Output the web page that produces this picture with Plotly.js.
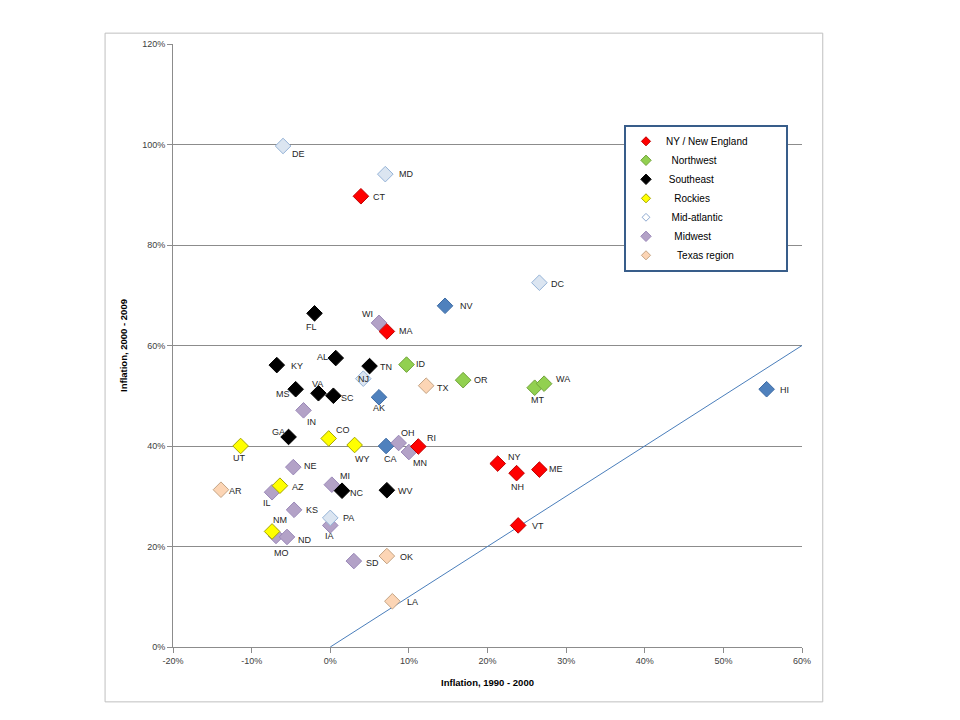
<!DOCTYPE html>
<html>
<head>
<meta charset="utf-8">
<script src="https://cdn.plot.ly/plotly-3.0.1.min.js"></script>
<style>
html,body{margin:0;padding:0;background:#fff;}
#chart{width:960px;height:720px;}
</style>
</head>
<body>
<div id="chart"></div>
<script>
// ---- Data (inflation 1990-2000 vs 2000-2009) ----
const newEnglandStates = ["CT","MA","RI","NY","NH","ME","VT"];
const newEnglandX = [0.039, 0.072, 0.112, 0.213, 0.237, 0.266, 0.239];
const newEnglandY = [0.897, 0.628, 0.399, 0.365, 0.346, 0.353, 0.242];

const northwestStates = ["ID","OR","MT","WA"];
const northwestX = [0.097, 0.169, 0.260, 0.272];
const northwestY = [0.562, 0.531, 0.516, 0.524];

const southeastStates = ["FL","AL","KY","TN","MS","VA","SC","GA","NC","WV"];
const southeastX = [-0.020, 0.007, -0.068, 0.050, -0.044, -0.015, 0.004, -0.053, 0.015, 0.072];
const southeastY = [0.664, 0.575, 0.561, 0.559, 0.513, 0.505, 0.500, 0.418, 0.311, 0.312];

const rockiesStates = ["CO","UT","WY","AZ","NM"];
const rockiesX = [-0.002, -0.114, 0.031, -0.064, -0.074];
const rockiesY = [0.415, 0.400, 0.402, 0.321, 0.230];

const midAtlanticStates = ["DE","MD","DC","NJ","PA"];
const midAtlanticX = [-0.060, 0.070, 0.266, 0.042, -0.000];
const midAtlanticY = [0.997, 0.941, 0.725, 0.534, 0.257];

const midwestStates = ["WI","IN","OH","MN","NE","MI","IL","KS","IA","MO","ND","SD"];
const midwestX = [0.062, -0.034, 0.087, 0.100, -0.047, 0.002, -0.074, -0.046, -0.000, -0.069, -0.055, 0.030];
const midwestY = [0.645, 0.471, 0.406, 0.388, 0.358, 0.323, 0.308, 0.273, 0.242, 0.221, 0.219, 0.171];

const texasStates = ["TX","AR","OK","LA"];
const texasX = [0.122, -0.139, 0.072, 0.079];
const texasY = [0.520, 0.313, 0.181, 0.091];

const pacificStates = ["NV","AK","CA","HI"];
const pacificX = [0.146, 0.062, 0.071, 0.555];
const pacificY = [0.679, 0.497, 0.400, 0.513];

const parityX = [0, 0.6];
const parityY = [0, 0.6];

const legendNames = ["NY / New England","Northwest","Southeast","Rockies","Mid-atlantic","Midwest","Texas region"];

const xTickVals = [-0.2, -0.1, 0, 0.1, 0.2, 0.3, 0.4, 0.5, 0.6];
const xTickLabels = ["-20%","-10%","0%","10%","20%","30%","40%","50%","60%"];
const yTickVals = [0, 0.2, 0.4, 0.6, 0.8, 1.0, 1.2];
const yTickLabels = ["0%","20%","40%","60%","80%","100%","120%"];

// ---- Styles ----
const styles = {
  ne:  {fill:"#FF0000", line:"#C00000", lsize:7},
  nw:  {fill:"#92D050", line:"#71A33A", lsize:8},
  se:  {fill:"#000000", line:"#000000", lsize:8},
  ro:  {fill:"#FFFF00", line:"#A6A600", lsize:7},
  ma:  {fill:"#DBE5F1", line:"#95B3D7", lsize:6},
  mw:  {fill:"#B3A2C7", line:"#9A88B8", lsize:8},
  tx:  {fill:"#FCD5B5", line:"#C4A484", lsize:7},
  pa:  {fill:"#4F81BD", line:"#3E6CA5", lsize:8}
};
// legend text indents / padding (in non-breaking spaces)
const legendLead = [0, 2, 1, 3, 2, 3, 4];
const legendTrail = 12;

// label offsets in px [dx, dy(down)]
const labelOffsets = {
  DE:[15,8], MD:[21,0], CT:[19,1], NV:[21,0], FL:[-3,14], WI:[-12,-9], MA:[19,0],
  AL:[-13,-1], KY:[20,1], TN:[16,1], ID:[14,-1], NJ:[0,0], TX:[17,2], OR:[18,0],
  MS:[-13,5], VA:[-1,-9], SC:[14,2], AK:[0,11], IN:[8,12], GA:[-10,-5], CO:[14,-8],
  UT:[-1,12], WY:[8,14], CA:[4,13], OH:[9,-10], RI:[13,-9], MN:[11,11], NE:[17,-1],
  MI:[13,-9], AZ:[18,1], AR:[15,1], NC:[15,2], WV:[19,1], IL:[-5,11], KS:[18,0],
  PA:[18,0], IA:[-1,11], NM:[8,-11], MO:[5,17], ND:[18,3], SD:[19,2], OK:[20,1],
  LA:[20,1], DC:[19,1], MT:[3,12], WA:[19,-5], HI:[18,1], NY:[17,-7], NH:[1,14],
  ME:[17,-1], VT:[20,1]
};

const groups = [
  {key:"pa", states:pacificStates, x:pacificX, y:pacificY},
  {key:"mw", states:midwestStates, x:midwestX, y:midwestY},
  {key:"ma", states:midAtlanticStates, x:midAtlanticX, y:midAtlanticY},
  {key:"tx", states:texasStates, x:texasX, y:texasY},
  {key:"ro", states:rockiesStates, x:rockiesX, y:rockiesY},
  {key:"nw", states:northwestStates, x:northwestX, y:northwestY},
  {key:"se", states:southeastStates, x:southeastX, y:southeastY},
  {key:"ne", states:newEnglandStates, x:newEnglandX, y:newEnglandY}
];

const traces = [];
traces.push({
  x: parityX, y: parityY, mode:"lines", type:"scatter",
  line:{color:"#4A7EBB", width:1}, showlegend:false, hoverinfo:"skip"
});
groups.forEach(g => {
  const s = styles[g.key];
  traces.push({
    x:g.x, y:g.y, text:g.states, mode:"markers", type:"scatter",
    marker:{symbol:"diamond", size:12, color:s.fill, line:{color:s.line, width:1}},
    showlegend:false, hoverinfo:"text"
  });
});
const nb = n => "&nbsp;".repeat(n);
const legendKeys = ["ne","nw","se","ro","ma","mw","tx"];
legendKeys.forEach((k,i) => {
  const s = styles[k];
  const isOutline = (k === "ma");
  traces.push({
    x:[null], y:[null], mode:"markers", type:"scatter",
    name: nb(legendLead[i]) + legendNames[i] + (i === 0 ? nb(legendTrail) : ""),
    marker:{symbol:"diamond", size:s.lsize, color: isOutline ? "#FFFFFF" : s.fill,
            line:{color: isOutline ? "#8EA9D0" : s.line, width:1}},
    showlegend:true
  });
});

const annotations = [];
groups.forEach(g => {
  g.states.forEach((st, i) => {
    const off = labelOffsets[st] || [15,0];
    annotations.push({
      x:g.x[i], y:g.y[i], xref:"x", yref:"y", text:st, showarrow:false,
      xshift:off[0], yshift:-off[1],
      font:{family:"Liberation Sans, Arial, sans-serif", size:9, color:"#262626"}
    });
  });
});

const layout = {
  width:960, height:720,
  margin:{l:173, r:158, t:44, b:73},
  paper_bgcolor:"#FFFFFF", plot_bgcolor:"#FFFFFF",
  font:{family:"Liberation Sans, Arial, sans-serif", size:9, color:"#404040"},
  xaxis:{
    range:[-0.2, 0.6], tickmode:"array", tickvals:xTickVals, ticktext:xTickLabels,
    showgrid:false, zeroline:false, showline:true, linecolor:"#8C8C8C", linewidth:1,
    ticks:"outside", ticklen:5, tickcolor:"#8C8C8C",
    tickfont:{size:9, color:"#404040"},
    title:{text:"<b>Inflation, 1990 - 2000</b>", font:{size:9.5, color:"#000000"}, standoff:14},
    automargin:false
  },
  yaxis:{
    range:[0, 1.2], tickmode:"array", tickvals:yTickVals, ticktext:yTickLabels,
    showgrid:true, gridcolor:"#8C8C8C", gridwidth:1,
    zeroline:false, showline:true, linecolor:"#8C8C8C", linewidth:1,
    ticks:"outside", ticklen:5, tickcolor:"#8C8C8C",
    tickfont:{size:9, color:"#404040"},
    title:{text:"<b>Inflation, 2000 - 2009</b>", font:{size:9.5, color:"#000000"}, standoff:12},
    automargin:false
  },
  legend:{
    x:0.717, y:0.866, xanchor:"left", yanchor:"top",
    bgcolor:"#FFFFFF", bordercolor:"#385D8A", borderwidth:2,
    font:{size:10, color:"#000000"}, itemsizing:"trace"
  },
  showlegend:true,
  annotations:annotations,
  shapes:[{
    type:"rect", xref:"paper", yref:"paper",
    x0:-0.108, x1:1.033, y0:-0.091, y1:1.018,
    line:{color:"#BFBFBF", width:1}, fillcolor:"rgba(0,0,0,0)", layer:"below"
  }]
};

Plotly.newPlot("chart", traces, layout, {displayModeBar:false, staticPlot:true});
</script>
</body>
</html>
